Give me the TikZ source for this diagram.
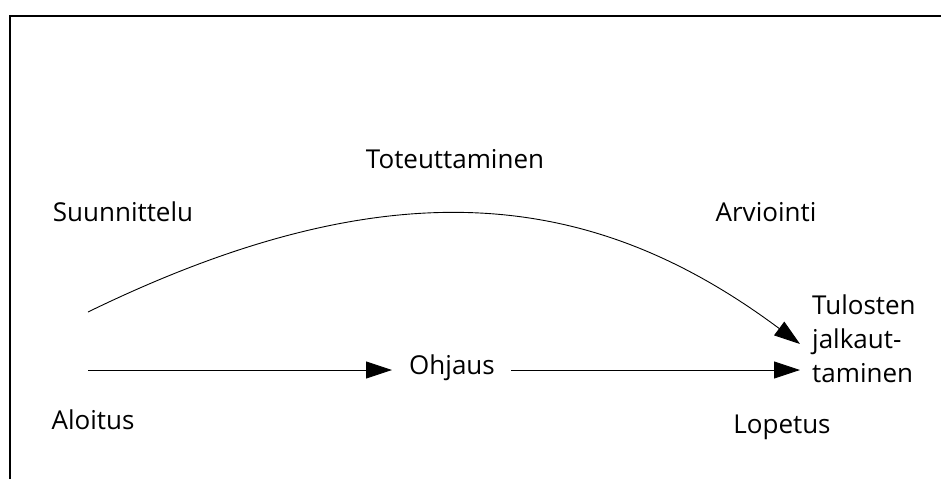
\documentclass[tikz,border=0pt]{standalone}
\usepackage{fontspec}
\setmainfont{Open Sans}
\usetikzlibrary{arrows.meta}
\begin{document}
\begin{tikzpicture}[x=1pt,y=-1pt,
  lbl/.style={font=\fontsize{26}{34}\selectfont, inner sep=0pt},
  conn/.style={line width=0.9pt, -{Triangle[length=26pt,width=17pt]}}]
\useasboundingbox (0,0) rectangle (941,479);
\draw[line width=2pt] (10,479) -- (10,16) -- (941,16);
\node[lbl] (tot) at (455,159) {Toteuttaminen};
\node[lbl] (suu) at (123,212) {Suunnittelu};
\node[lbl] (arv) at (766,212) {Arviointi};
\node[lbl, align=left, anchor=west] (tul) at (812,339) {Tulosten\\jalkaut-\\taminen};
\node[lbl] (alo) at (93,420) {Aloitus};
\node[lbl] (lop) at (782,427) {Lopetus};
\node[lbl] (ohj) at (452,368) {Ohjaus};
\coordinate (s1) at (88,312);
\coordinate (s2) at (88,370);
\coordinate (m1) at (392,370);
\coordinate (m2) at (511,370);
\coordinate (e1) at (800,344);
\coordinate (e2) at (800,370);
\draw[conn] (s2) -- (m1);
\draw[conn] (m2) -- (e2);
\draw[conn] (s1) .. controls (400,160) and (600,195) .. (e1);
\end{tikzpicture}
\end{document}
